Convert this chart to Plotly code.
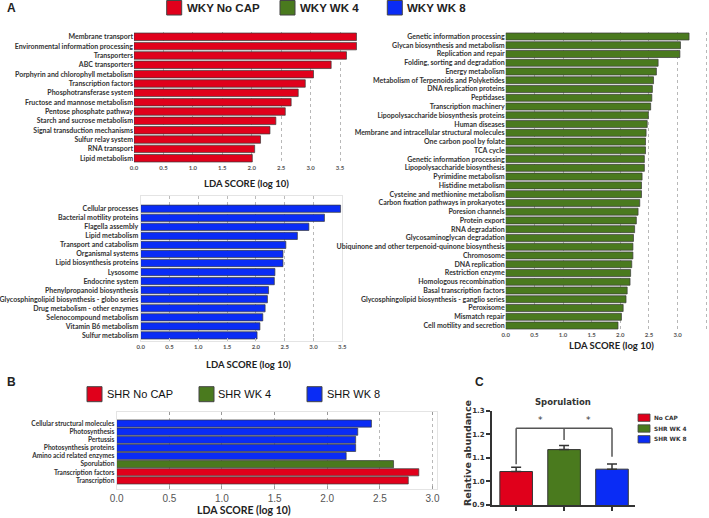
import plotly.graph_objects as go

W, H = 709, 518

# ---------------- DATA ----------------
groupA = ["WKY No CAP", "WKY WK 4", "WKY WK 8"]
groupB = ["SHR No CAP", "SHR WK 4", "SHR WK 8"]
group_colors = ["#e0001b", "#4a7a1e", "#0a2cf5"]

a_nocap_labels = ["Membrane transport", "Environmental information processing", "Transporters",
                  "ABC transporters", "Porphyrin and chlorophyll metabolism", "Transcription factors",
                  "Phosphotransferase system", "Fructose and mannose metabolism", "Pentose phosphate pathway",
                  "Starch and sucrose metabolism", "Signal transduction mechanisms", "Sulfur relay system",
                  "RNA transport", "Lipid metabolism"]
a_nocap_values = [3.78, 3.78, 3.61, 3.35, 3.05, 2.91, 2.79, 2.67, 2.57, 2.41, 2.31, 2.15, 2.05, 2.01]

a_wk8_labels = ["Cellular processes", "Bacterial motility proteins", "Flagella assembly", "Lipid metabolism",
                "Transport and catabolism", "Organismal systems", "Lipid biosynthesis proteins", "Lysosome",
                "Endocrine system", "Phenylpropanoid biosynthesis", "Glycosphingolipid biosynthesis - globo series",
                "Drug metabolism - other enzymes", "Selenocompound metabolism", "Vitamin B6 metabolism",
                "Sulfur metabolism"]
a_wk8_values = [3.47, 3.19, 2.92, 2.72, 2.52, 2.47, 2.47, 2.33, 2.32, 2.22, 2.20, 2.16, 2.12, 2.07, 2.02]

a_wk4_labels = ["Genetic information processing", "Glycan biosynthesis and metabolism", "Replication and repair",
                "Folding, sorting and degradation", "Energy metabolism", "Metabolism of Terpenoids and Polyketides",
                "DNA replication proteins", "Peptidases", "Transcription machinery",
                "Lipopolysaccharide biosynthesis proteins", "Human diseases",
                "Membrane and intracellular structural molecules", "One carbon pool by folate", "TCA cycle",
                "Genetic information processing", "Lipopolysaccharide biosynthesis", "Pyrimidine metabolism",
                "Histidine metabolism", "Cysteine and methionine metabolism", "Carbon fixation pathways in prokaryotes",
                "Poresion channels", "Protein export", "RNA degradation", "Glycosaminoglycan degradation",
                "Ubiquinone and other terpenoid-quinone biosynthesis", "Chromosome", "DNA replication",
                "Restriction enzyme", "Homologous recombination", "Basal transcription factors",
                "Glycosphingolipid biosynthesis - ganglio series", "Peroxisome", "Mismatch repair",
                "Cell motility and secretion"]
a_wk4_values = [3.20, 3.05, 3.04, 2.66, 2.63, 2.58, 2.56, 2.55, 2.53, 2.49, 2.47, 2.45, 2.44, 2.44, 2.42, 2.42,
                2.38, 2.37, 2.37, 2.34, 2.31, 2.28, 2.25, 2.23, 2.22, 2.22, 2.20, 2.18, 2.17, 2.12, 2.10, 2.05,
                2.02, 1.96]

b_labels = ["Cellular structural molecules", "Photosynthesis", "Pertussis", "Photosynthesis proteins",
            "Amino acid related enzymes", "Sporulation", "Transcription factors", "Transcription"]
b_values = [2.42, 2.29, 2.27, 2.27, 2.18, 2.63, 2.87, 2.77]
b_group = [2, 2, 2, 2, 2, 1, 0, 0]

c_groups = ["No CAP", "SHR WK 4", "SHR WK 8"]
c_values = [1.042, 1.135, 1.052]
c_errors = [0.018, 0.017, 0.022]

lda_ticks = [0.0, 0.5, 1.0, 1.5, 2.0, 2.5, 3.0, 3.5]
c_ticks = [0.9, 1.0, 1.1, 1.2, 1.3]

# ---------------- HELPERS ----------------
def xd(a, b):
    return [a / W, b / W]

def yd(top, bot):
    return [1 - bot / H, 1 - top / H]

def px(x):
    return x / W

def py(y):
    return 1 - y / H

fig = go.Figure()

LINE = dict(color="#3a3a3a", width=0.7)

def hbar(values, colors, ax, width):
    fig.add_trace(go.Bar(x=values, y=list(range(len(values))), orientation="h",
                         marker=dict(color=colors, line=LINE), width=width,
                         xaxis="x" + ax, yaxis="y" + ax, showlegend=False, hoverinfo="x"))

hbar(a_nocap_values, group_colors[0], "", 0.8)
hbar(a_wk8_values, group_colors[2], "2", 0.8)
hbar(a_wk4_values, group_colors[1], "3", 0.8)
hbar(b_values, [group_colors[g] for g in b_group], "4", 0.88)

fig.add_trace(go.Bar(x=list(range(3)), y=c_values, marker=dict(color=group_colors, line=dict(color="#333", width=1)),
                     width=0.68, xaxis="x5", yaxis="y5", showlegend=False,
                     error_y=dict(type="data", array=c_errors, arrayminus=[0, 0, 0], color="#333",
                                  thickness=1.5, width=5)))

LABFONT = dict(family="Lato", size=7, color="#333", weight="bold")
NUMFONT = dict(family="Lato", size=6, color="#555", weight="bold")

def lda_x(domain, rng, box, anchor, numfont=NUMFONT):
    d = dict(domain=domain, range=rng, tickvals=lda_ticks, tickformat=".1f", tickfont=numfont,
             showgrid=True, gridcolor="#b8b8b8", griddash="dot", gridwidth=1, zeroline=False,
             ticks="", fixedrange=True, automargin=False, anchor=anchor)
    if box:
        d.update(showline=True, mirror=True, linecolor="#e4e4e4", linewidth=1)
    else:
        d.update(showline=False)
    return d

def cat_y(domain, rng, labels, box, anchor, font=LABFONT):
    d = dict(domain=domain, range=rng, tickvals=list(range(len(labels))), ticktext=labels,
             tickfont=font, showgrid=False, zeroline=False, ticks="", fixedrange=True,
             automargin=False, anchor=anchor)
    if box:
        d.update(showline=True, mirror=True, linecolor="#e4e4e4", linewidth=1)
    return d

n1, n2, n3, n4 = len(a_nocap_values), len(a_wk8_values), len(a_wk4_values), len(b_values)

layout = dict(
    width=W, height=H, margin=dict(l=0, r=0, t=0, b=0, autoexpand=False),
    template="none",
    paper_bgcolor="white", plot_bgcolor="white", bargap=0.2, showlegend=False,
    xaxis=lda_x(xd(134, 360.6), [0, 3.85], False, "y"),
    yaxis=cat_y(yd(32.1, 162.9), [n1 - 0.5, -0.5], a_nocap_labels, False, "x"),
    xaxis2=lda_x(xd(140.7, 342.3), [0, 3.5], True, "y2"),
    yaxis2=cat_y(yd(195.7, 341), [n2 - 0.38, -1.44], a_wk8_labels, True, "x2"),
    xaxis3=lda_x(xd(505.7, 707.4), [0, 3.52], False, "y3"),
    yaxis3=cat_y(yd(32.1, 329.9), [n3 - 0.5, -0.5], a_wk4_labels, False, "x3"),
    xaxis4=lda_x(xd(116.7, 436.7), [0, 3.04], True, "y4", dict(family="Liberation Sans", size=10, color="#555")),
    yaxis4=cat_y(yd(411.7, 489), [n4 + 0.06, -1.46], b_labels, True, "x4",
                 dict(family="Lato", size=6.6, color="#333", weight="bold")),
    xaxis5=dict(domain=xd(491.7, 635), range=[-0.51, 2.48], tickvals=[0, 1, 2], showticklabels=False,
                ticks="outside", ticklen=4, tickwidth=1.5, tickcolor="#333", showline=True,
                linecolor="#333", linewidth=1.5, showgrid=False, zeroline=False, fixedrange=True,
                automargin=False, anchor="y5"),
    yaxis5=dict(domain=yd(410.7, 505), range=[0.9, 1.3], tickvals=c_ticks, tickformat=".1f",
                tickfont=dict(family="DejaVu Sans", size=7, color="#333", weight="bold"),
                ticks="outside", ticklen=4, tickwidth=1.5, tickcolor="#333", showline=True,
                linecolor="#333", linewidth=1.5, showgrid=False, zeroline=False, fixedrange=True,
                automargin=False, anchor="x5"),
)
fig.update_layout(**layout)
fig.layout.xaxis4.update(ticks="inside", ticklen=3, tickcolor="#999", mirror="ticks")
fig.layout.xaxis2.update(ticks="inside", ticklen=3, tickcolor="#bbb", mirror="ticks")

annotations = []
shapes = []

def text(x, y, s, size, family="Liberation Sans", color="#222", weight="bold", xanchor="left", angle=0):
    annotations.append(dict(x=px(x), y=py(y), xref="paper", yref="paper", text=s, showarrow=False,
                            xanchor=xanchor, yanchor="middle", textangle=angle,
                            font=dict(family=family, size=size, color=color, weight=weight)))

def swatch(x0, y0, x1, y1, color, lw=1):
    shapes.append(dict(type="rect", xref="paper", yref="paper", x0=px(x0), x1=px(x1), y0=py(y1), y1=py(y0),
                       fillcolor=color, line=dict(color="#444", width=lw)))

# panel letters
text(5, 8, "A", 12)
text(5, 382, "B", 12)
text(473, 382, "C", 12)

# legend A
for (sx, tx), name, col in zip([(166.7, 185), (280, 298), (387.3, 405)], groupA, group_colors):
    swatch(sx, 0.5, sx + 15, 15, col)
    text(tx, 8, name, 11.5)

# legend B
for (sx, tx), name, col in zip([(87, 105), (199, 216), (307, 325)], groupB, group_colors):
    swatch(sx, 386.7, sx + 15, 401.7, col)
    text(tx, 394, name, 11, weight="normal", color="#111")

# legend C
for yy, name, col in zip([417.7, 428.5, 439.3], c_groups, group_colors):
    swatch(638, yy - 3.7, 650, yy + 3.7, col, 0.8)
    text(652, yy, name, 5.8, family="DejaVu Sans", color="#333")

# axis titles
text(246, 183, "LDA SCORE (log 10)", 9.5, family="Lato", xanchor="center")
text(248, 364, "LDA SCORE (log 10)", 9.5, family="Lato", xanchor="center")
text(611, 345, "LDA SCORE (log 10)", 9.5, family="Lato", xanchor="center")
text(244, 510, "LDA SCORE (log 10)", 10.5, family="Lato", xanchor="center")
text(563, 402, "Sporulation", 8.5, family="DejaVu Sans", xanchor="center", color="#333")
text(467, 453, "Relative abundance", 9.5, family="DejaVu Sans", xanchor="center", color="#333", angle=-90)

# significance brackets in panel C (data coordinates)
top = max(v + e for v, e in zip(c_values, c_errors)) + 0.074
legs = [c_values[0] + c_errors[0] + 0.013, c_values[1] + c_errors[1] + 0.024, c_values[2] + c_errors[2] + 0.031]
BR = dict(color="#555", width=1.5)
for i in range(3):
    shapes.append(dict(type="line", xref="x5", yref="y5", x0=i, x1=i, y0=legs[i], y1=top, line=BR))
shapes.append(dict(type="line", xref="x5", yref="y5", x0=0, x1=2, y0=top, y1=top, line=BR))
for xs in (0.5, 1.5):
    annotations.append(dict(x=xs, y=top + 0.004, xref="x5", yref="y5", text="*", showarrow=False,
                            yanchor="bottom", font=dict(family="DejaVu Sans", size=9, color="#333")))

fig.update_layout(annotations=annotations, shapes=shapes)
fig.write_html("out.html", config={"displayModeBar": False},
               post_script="document.body.style.margin='0px';document.body.style.overflow='hidden';")
